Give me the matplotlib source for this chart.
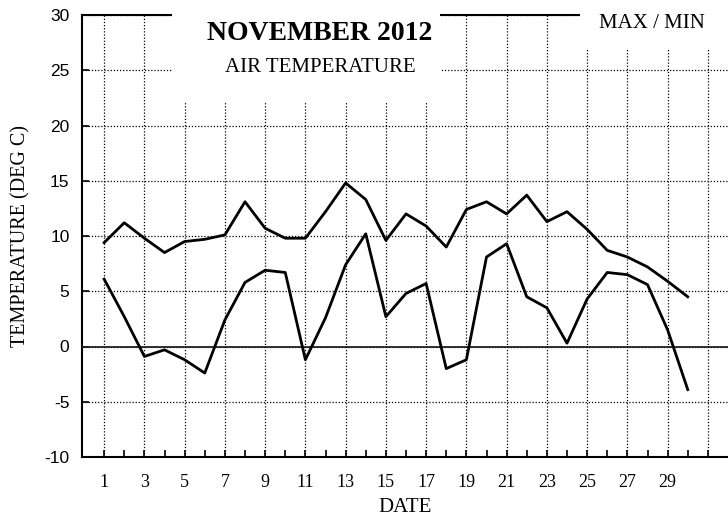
import numpy as np
import matplotlib.pyplot as plt
from matplotlib.patches import Rectangle

# daily air temperature, november 2012
days = list(range(1, 31))
t_max = [9.4, 11.2, 9.8, 8.5, 9.5, 9.7, 10.1, 13.1, 10.7, 9.8,
         9.8, 12.2, 14.8, 13.3, 9.6, 12.0, 10.9, 9.0, 12.4, 13.1,
         12.0, 13.7, 11.3, 12.2, 10.6, 8.7, 8.1, 7.2, 5.9, 4.5]
t_min = [6.1, 2.7, -0.9, -0.3, -1.2, -2.4, 2.4, 5.8, 6.9, 6.7,
         -1.2, 2.6, 7.4, 10.2, 2.7, 4.8, 5.7, -2.0, -1.2, 8.1,
         9.3, 4.5, 3.5, 0.3, 4.3, 6.7, 6.5, 5.6, 1.5, -3.9]

odd_days = list(range(1, 32, 2))
odd_labels = [str(d) if d < 31 else "" for d in odd_days]
even_days = list(range(2, 32, 2))
y_ticks = list(range(-10, 31, 5))

serif = "Liberation Serif"
sans = "Liberation Sans"

fig = plt.figure(figsize=(7.28, 5.22), dpi=100)
ax = fig.add_axes([82 / 728, 1 - 457 / 522, 646 / 728, 442 / 522])

ax.plot(days, t_max, color="black", lw=2.0, zorder=4)
ax.plot(days, t_min, color="black", lw=2.0, zorder=4)
ax.axhline(0, color="#222222", lw=1.3, zorder=3)

ax.set_xlim(-0.1, 32)
ax.set_ylim(-10, 30)

ax.set_xticks(odd_days)
ax.set_xticklabels(odd_labels, fontfamily=serif, fontsize=13)
ax.set_xticks(even_days, minor=True)
ax.set_yticks(y_ticks)
ax.set_yticklabels([str(v) for v in y_ticks], fontfamily=sans, fontsize=12.5)
ax.tick_params(axis="x", which="both", direction="in", length=5, width=1.2,
               pad=12, top=False)
ax.tick_params(axis="y", direction="in", length=5, width=1.2, pad=9)

ax.grid(True, which="major", linestyle=(0, (1, 1.5)), color="black", lw=0.9)
ax.set_axisbelow(True)

for side in ["left", "bottom", "top"]:
    ax.spines[side].set_linewidth(1.5)
ax.spines["right"].set_visible(False)

# white blocks behind the title and legend texts
ax.add_patch(Rectangle((0.139, 0.801), 0.415, 0.25, transform=ax.transAxes,
                       facecolor="white", edgecolor="none", zorder=3,
                       clip_on=False))
ax.add_patch(Rectangle((0.771, 0.925), 0.23, 0.12, transform=ax.transAxes,
                       facecolor="white", edgecolor="none", zorder=3,
                       clip_on=False))

fig.text(320 / 728, 1 - 33 / 522, "NOVEMBER 2012", ha="center", va="center",
         fontfamily=serif, fontweight="bold", fontsize=20, zorder=5)
fig.text(320 / 728, 1 - 67 / 522, "AIR TEMPERATURE", ha="center",
         va="center", fontfamily=serif, fontsize=15, zorder=5)
fig.text(652 / 728, 1 - 24 / 522, "MAX / MIN", ha="center", va="center",
         fontfamily=serif, fontsize=15, zorder=5)

ax.set_xlabel("DATE", fontfamily=serif, fontsize=15)
ax.xaxis.set_label_coords(0.5, (457 - 507) / 442)
ax.set_ylabel("TEMPERATURE (DEG C)", fontfamily=serif, fontsize=14.5)
ax.yaxis.set_label_coords((21 - 82) / 646, 0.5)
ax.xaxis.label.set_va("center")
ax.yaxis.label.set_va("center")

fig.savefig("out.png", dpi=100)
